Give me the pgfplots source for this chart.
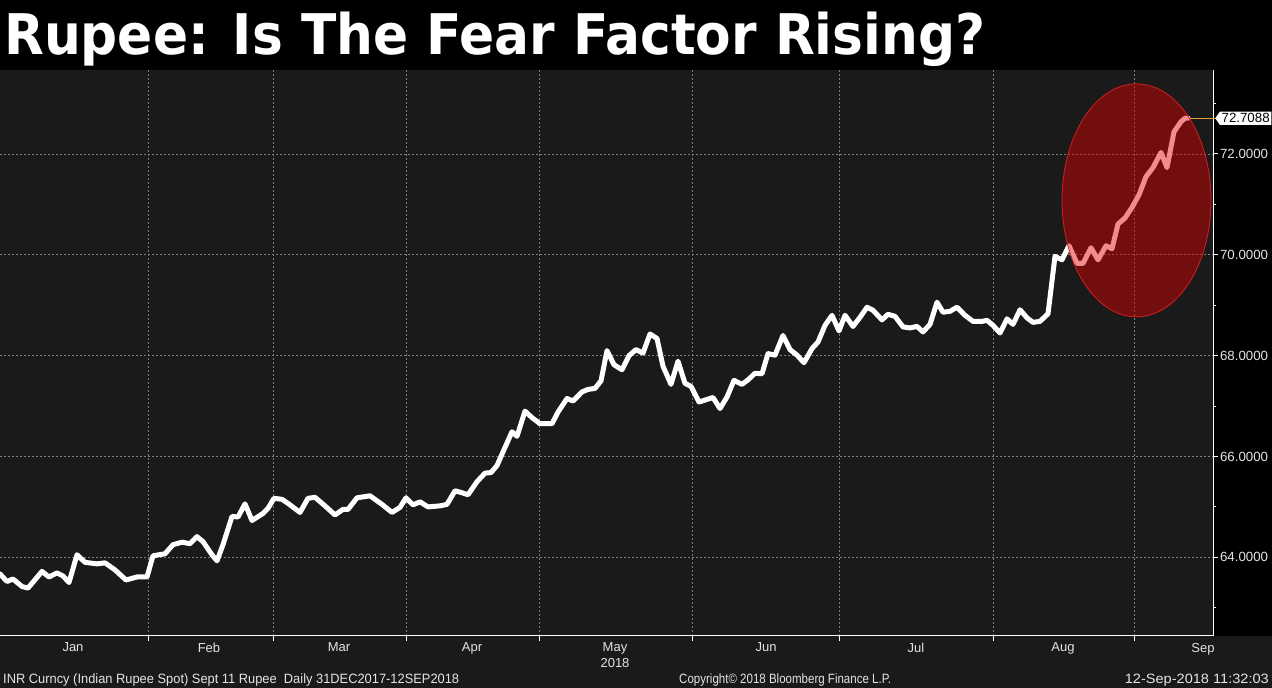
\documentclass[border=0pt]{standalone}
\usepackage{pgfplots}
\pgfplotsset{compat=1.18}
\usepackage{fontspec}
\setmainfont{Liberation Sans}
\newfontfamily\titlefont{DejaVu Sans}
\usetikzlibrary{shapes.symbols}
\definecolor{bg}{RGB}{26,26,26}
\definecolor{gridc}{RGB}{125,125,125}
\definecolor{txt}{RGB}{228,228,228}
\definecolor{ellfill}{RGB}{222,0,0}
\definecolor{elledge}{RGB}{215,30,30}
\definecolor{lastc}{RGB}{230,160,60}
\begin{document}
\begin{tikzpicture}[x=1pt,y=1pt]
\fill[bg] (0,0) rectangle (1272,688);
\fill[black] (0,618) rectangle (1272,688);
\fill[black] (1213,52) rectangle (1272,618);
\path[use as bounding box] (0,0) rectangle (1272,688);
\begin{axis}[
  at={(0pt,52pt)}, anchor=south west, scale only axis,
  width=1213pt, height=566pt,
  xmin=0, xmax=1213, ymin=62.439, ymax=73.666,
  axis x line*=bottom, axis y line*=right,
  axis line style={white, line width=1pt, -},
  xtick={148,273,406,539,692,839,993,1134}, xticklabels={},
  extra x ticks={73,209,339,472,615,766,916,1063,1203},
  extra x tick labels={Jan,Feb,Mar,Apr,May\\2018,Jun,Jul,Aug,Sep},
  extra x tick style={grid=none, major tick length=0pt,
    tick label style={anchor=north, align=center, yshift=-3.5pt}},
  ytick={64,66,68,70,72}, minor ytick={63,65,67,69,71,73},
  grid=major,
  major grid style={gridc, dash pattern=on 2pt off 2pt, line width=0.8pt},
  tick style={white, line width=1pt},
  major tick length=5pt, minor tick length=3pt,
  tick align=outside,
  /pgf/number format/assume math mode=true,
  yticklabel style={/pgf/number format/.cd, fixed, fixed zerofill, precision=4, /tikz/.cd,
    anchor=west, xshift=-1.5pt, text=txt, font=\fontsize{13.3}{15}\selectfont},
  xticklabel style={text=txt, font=\fontsize{13}{16}\selectfont},
  clip=false,
]
\addplot[white, line width=5pt, line join=round, line cap=round] coordinates {
(0,63.67)(7,63.52)(13,63.57)(22,63.42)(28,63.39)(42,63.72)(49,63.61)(57,63.69)(63,63.63)(69,63.50)
(77,64.05)(85,63.90)(97,63.87)(105,63.89)(115,63.75)(126,63.55)(137,63.61)(147,63.61)(153,64.03)(165,64.07)
(173,64.25)(182,64.30)(190,64.27)(197,64.41)(203,64.31)(212,64.05)(217,63.93)(223,64.25)(232,64.81)(238,64.80)
(245,65.06)(252,64.73)(263,64.87)(268,64.97)(274,65.17)(282,65.15)(288,65.07)(300,64.89)(308,65.17)(315,65.19)
(325,65.02)(335,64.84)(343,64.95)(348,64.95)(357,65.18)(370,65.22)(382,65.05)(392,64.89)(400,64.99)(406,65.18)
(413,65.04)(420,65.10)(428,65.00)(440,65.02)(447,65.05)(455,65.32)(462,65.28)(468,65.24)(477,65.50)(485,65.67)
(491,65.68)(497,65.82)(503,66.09)(512,66.49)(517,66.40)(525,66.90)(532,66.77)(540,66.65)(552,66.65)(558,66.88)
(567,67.15)(573,67.10)(582,67.28)(588,67.33)(595,67.35)(601,67.50)(607,68.10)(614,67.82)(622,67.72)(629,68.00)
(636,68.12)(643,68.05)(650,68.43)(657,68.34)(663,67.79)(671,67.43)(678,67.89)(685,67.45)(691,67.39)(699,67.08)
(713,67.17)(720,66.95)(727,67.18)(734,67.51)(742,67.43)(748,67.52)(755,67.65)(762,67.64)(768,68.04)(775,68.01)
(783,68.40)(790,68.12)(797,68.01)(804,67.86)(812,68.14)(818,68.27)(825,68.60)(832,68.80)(839,68.49)(845,68.80)
(853,68.58)(860,68.76)(867,68.96)(873,68.90)(882,68.71)(888,68.82)(895,68.78)(903,68.57)(910,68.55)(917,68.58)
(923,68.47)(930,68.62)(937,69.06)(943,68.86)(950,68.88)(957,68.96)(965,68.80)(973,68.68)(982,68.68)(987,68.70)
(993,68.60)(1000,68.45)(1007,68.73)(1013,68.62)(1020,68.91)(1027,68.75)(1033,68.66)(1040,68.68)(1048,68.83)(1055,69.97)
(1062,69.90)(1069,70.18)(1077,69.83)(1083,69.83)(1091,70.14)(1098,69.90)(1106,70.18)(1112,70.12)(1118,70.61)(1125,70.73)
(1132,70.94)(1139,71.19)(1146,71.55)(1153,71.73)(1161,72.03)(1167,71.73)(1174,72.44)(1181,72.64)(1185,72.71)(1188,72.7088)
};
\addplot[lastc, line width=1pt] coordinates {(1190,72.7088)(1217,72.7088)};
\node[signal, signal to=west, signal pointer angle=110, fill=white, text=black, inner sep=1.8pt,
  anchor=west, font=\fontsize{13.3}{15}\selectfont] at (axis cs:1215,72.7088) {72.7088};
\coordinate (ec) at (axis cs:1136.5,71.08);
\end{axis}
\fill[ellfill, fill opacity=0.45] (ec) ellipse [x radius=74.5pt, y radius=116.5pt];
\draw[elledge, line width=0.8pt] (ec) ellipse [x radius=74.5pt, y radius=116.5pt];
\node[anchor=base west, inner sep=0, text=white] at (4,633)
  {\resizebox{981pt}{\height}{\titlefont\bfseries\fontsize{56}{60}\selectfont Rupee: Is The Fear Factor Rising?}};
\node[anchor=base west, inner sep=0, text=txt] at (3,4.5)
  {\resizebox{456pt}{\height}{\fontsize{13.5}{15}\selectfont INR Curncy (Indian Rupee Spot) Sept 11 Rupee\ \ Daily 31DEC2017-12SEP2018}};
\node[anchor=base west, inner sep=0, text=txt] at (679,4.5)
  {\resizebox{212pt}{\height}{\fontsize{13.5}{15}\selectfont Copyright© 2018 Bloomberg Finance L.P.}};
\node[anchor=base east, inner sep=0, text=txt] at (1269,4.5)
  {\resizebox{144pt}{\height}{\fontsize{13.5}{15}\selectfont 12-Sep-2018 11:32:03}};
\end{tikzpicture}
\end{document}
